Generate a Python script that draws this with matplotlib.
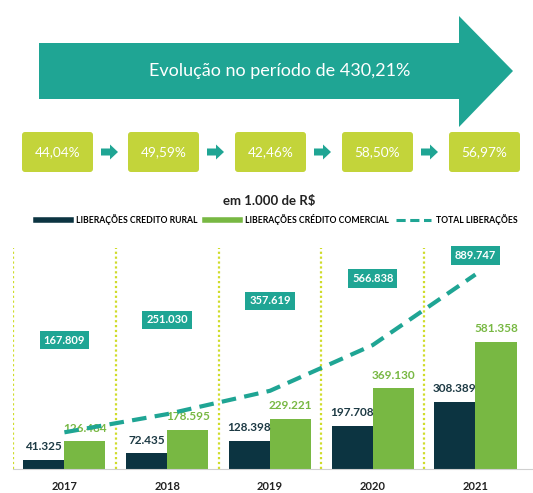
import matplotlib
matplotlib.use('Agg')
import matplotlib.pyplot as plt
from matplotlib.patches import Polygon, FancyBboxPatch, FancyArrow
from matplotlib.lines import Line2D
import numpy as np

plt.rcParams['font.family'] = ['Lato', 'DejaVu Sans']

# dados (em 1.000 de R$)
anos = ['2017', '2018', '2019', '2020', '2021']
rural = [41.325, 72.435, 128.398, 197.708, 308.389]
comercial = [126.484, 178.595, 229.221, 369.130, 581.358]
total = [167.809, 251.030, 357.619, 566.838, 889.747]
variacao = ['44,04%', '49,59%', '42,46%', '58,50%', '56,97%']
titulo = 'Evolução no período de 430,21%'

# cores
c_rural = '#0c3441'
c_com = '#78b843'
c_teal = '#1fa594'
c_box = '#c3d43a'
c_dot = '#cfdc2a'

fig = plt.figure(figsize=(5.33, 4.93), dpi=100)

# camada de cima (infografico), coordenadas em pixels
top = fig.add_axes([0, 0, 1, 1])
top.set_xlim(0, 533)
top.set_ylim(493, 0)
top.axis('off')

seta = Polygon([(39, 43), (459, 43), (459, 16), (513, 71), (459, 127),
                (459, 99), (39, 99)], closed=True, color=c_teal, lw=0)
top.add_patch(seta)
top.text(280, 71, titulo, color='white', fontsize=13, ha='center', va='center')

box_x = [20, 126, 233, 340, 447]
for i, txt in enumerate(variacao):
    top.add_patch(FancyBboxPatch((box_x[i] + 2, 132), 71, 40,
                                 boxstyle='round,pad=0,rounding_size=3',
                                 color=c_box, lw=0))
    top.text(box_x[i] + 37.5, 152, txt, color='white', fontsize=9.8,
             ha='center', va='center')
    if i < 4:
        top.add_patch(FancyArrow(box_x[i] + 81, 152, 17, 0, width=7,
                                 head_width=15, head_length=8,
                                 length_includes_head=True, color=c_teal, lw=0))

top.text(269, 201, 'em 1.000 de R$', fontsize=9.5, fontweight='bold',
         color='#222222', ha='center', va='center')

# grafico de barras
ax = fig.add_axes([13 / 533, 1 - 469 / 493, 520 / 533, 221 / 493])
x = np.arange(len(anos))
w = 0.4
ax.bar(x - w / 2, rural, w, color=c_rural)
ax.bar(x + w / 2, comercial, w, color=c_com)
ax.plot(x, total, color=c_teal, lw=3, ls=(0, (3.5, 2)), zorder=6)

for i in range(len(anos)):
    ax.annotate(f'{rural[i]:.3f}', (x[i] - w / 2, rural[i]), xytext=(0, 13),
                textcoords='offset pixels', ha='center', va='center',
                fontsize=8.5, fontweight='bold', color='#1d3a44', zorder=5)
    ax.annotate(f'{comercial[i]:.3f}', (x[i] + w / 2, comercial[i]), xytext=(0, 13),
                textcoords='offset pixels', ha='center', va='center',
                fontsize=8.5, fontweight='bold', color=c_com, zorder=5)

# caixas com o total
total_label_y = [590, 682, 769, 870, 975]
for i in range(len(anos)):
    ax.text(x[i], total_label_y[i], f'{total[i]:.3f}', color='white', fontsize=8,
            fontweight='bold', ha='center', va='center', zorder=7,
            bbox=dict(boxstyle='square,pad=0.35', fc=c_teal, ec='none'))

for xv in np.arange(-0.5, 4, 1):
    ax.axvline(xv, color=c_dot, ls=(0, (1, 1.2)), lw=1.6, zorder=0)

ax.set_xlim(-0.5, 4.56)
ax.set_ylim(0, 1011)
ax.set_xticks(x)
ax.set_xticklabels(anos, fontweight='bold', fontsize=8, color='#222222')
ax.tick_params(axis='x', length=0, pad=9)
ax.set_yticks([])
for s in ['top', 'left', 'right']:
    ax.spines[s].set_visible(False)
ax.spines['bottom'].set_color('#d0d0d0')
ax.patch.set_alpha(0)

handles = [Line2D([], [], color=c_rural, lw=4),
           Line2D([], [], color=c_com, lw=4),
           Line2D([], [], color=c_teal, lw=2.2, ls=(0, (3, 1.5)))]
fig.legend(handles, ['LIBERAÇÕES CREDITO RURAL', 'LIBERAÇÕES CRÉDITO COMERCIAL',
                     'TOTAL LIBERAÇÕES'],
           loc='center', bbox_to_anchor=(277 / 533, 1 - 220 / 493), ncol=3,
           frameon=False, handlelength=4.0, handletextpad=0.6, columnspacing=0.9,
           prop={'size': 6.2, 'weight': 'bold'})

fig.savefig('out.png', dpi=100)
